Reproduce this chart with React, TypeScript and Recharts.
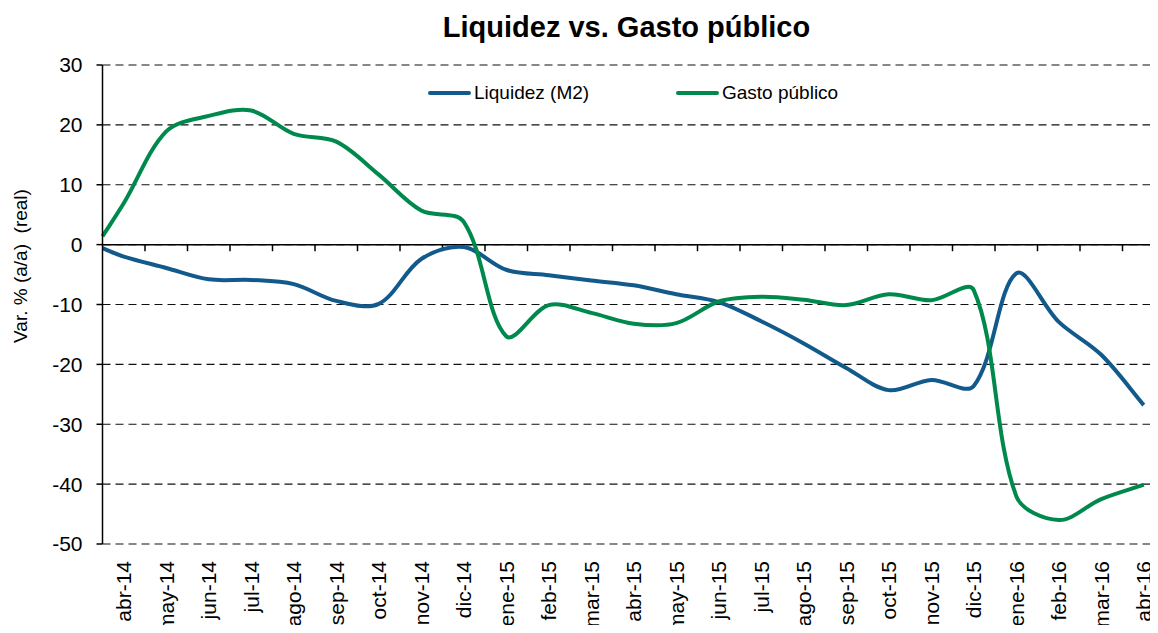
import React from 'react';
import {
  LineChart,
  Line,
  XAxis,
  YAxis,
  CartesianGrid,
  Legend,
  ReferenceLine,
} from 'recharts';

const months = [
  'abr-14', 'may-14', 'jun-14', 'jul-14', 'ago-14', 'sep-14', 'oct-14', 'nov-14', 'dic-14',
  'ene-15', 'feb-15', 'mar-15', 'abr-15', 'may-15', 'jun-15', 'jul-15', 'ago-15', 'sep-15',
  'oct-15', 'nov-15', 'dic-15', 'ene-16', 'feb-16', 'mar-16', 'abr-16',
];

// Var. % (a/a) real
const liquidez = [
  -2.0, -3.9, -5.8, -5.9, -6.6, -9.4, -9.9, -2.4, -0.4, -4.2, -5.1, -6.0, -6.8,
  -8.3, -9.6, -12.8, -16.5, -20.6, -24.3, -22.6, -23.6, -4.8, -12.9, -18.4, -26.8,
];
const gasto = [
  6.9, 18.9, 21.5, 22.4, 18.5, 17.2, 11.7, 5.7, 3.8, -15.3, -10.1, -11.4, -13.2,
  -13.1, -9.5, -8.7, -9.2, -10.1, -8.3, -9.3, -7.6, -42.0, -46.0, -42.5, -40.1,
];
// the lines already start at the left edge of the plot (half a month before abr-14)
const liquidezEdge = -0.6;
const gastoEdge = 1.4;

const yTicks = [-50, -40, -30, -20, -10, 0, 10, 20, 30];

const BLUE = '#125A8C';
const GREEN = '#00894C';
const FONT = '"Liberation Sans", Arial, sans-serif';

const chartData = [
  { pos: -0.5, liquidez: liquidezEdge, gasto: gastoEdge },
  ...months.map((m, i) => ({ pos: i, liquidez: liquidez[i], gasto: gasto[i] })),
];
const monthTicks = months.map((_, i) => i);
const bandEdges = months.map((_, i) => i + 0.5);

// Excel-like smoothed line: bezier through every point,
// handles weighted by the lengths of the neighbouring segments
const excelSmooth = (context: any) => {
  let pts: number[][] = [];
  const dist = (a: number[], b: number[]) => Math.hypot(b[0] - a[0], b[1] - a[1]);
  return {
    areaStart() {},
    areaEnd() {},
    lineStart() {
      pts = [];
    },
    lineEnd() {
      if (!pts.length) return;
      context.moveTo(pts[0][0], pts[0][1]);
      for (let i = 0; i < pts.length - 1; i++) {
        const p1 = pts[i];
        const p2 = pts[i + 1];
        const p0 = pts[i - 1] || p1;
        const p3 = pts[i + 2] || p2;
        const d01 = dist(p0, p1);
        const d12 = dist(p1, p2) || 1;
        const d23 = dist(p2, p3);
        const f1 = d12 / (3 * (d01 + d12));
        const f2 = d12 / (3 * (d12 + d23));
        context.bezierCurveTo(
          p1[0] + (p2[0] - p0[0]) * f1,
          p1[1] + (p2[1] - p0[1]) * f1,
          p2[0] - (p3[0] - p1[0]) * f2,
          p2[1] - (p3[1] - p1[1]) * f2,
          p2[0],
          p2[1]
        );
      }
    },
    point(x: number, y: number) {
      pts.push([+x, +y]);
    },
  };
};

const MonthTick = (props: any) => {
  const { x, y, payload } = props;
  return (
    <text
      x={x}
      y={y}
      transform={`rotate(-90, ${x}, ${y})`}
      textAnchor="end"
      dy="0.35em"
      fontSize={21}
      fontFamily={FONT}
      fill="#000"
    >
      {months[payload.value]}
    </text>
  );
};

const LegendContent = () => {
  const items = [
    { name: 'Liquidez (M2)', color: BLUE, width: 248 },
    { name: 'Gasto público', color: GREEN, width: 200 },
  ];
  return (
    <div style={{ display: 'flex', fontFamily: FONT, fontSize: 19, color: '#000' }}>
      {items.map((it) => (
        <div key={it.name} style={{ width: it.width, display: 'flex', alignItems: 'center' }}>
          <span
            style={{
              display: 'inline-block',
              width: 43,
              height: 4,
              borderRadius: 2,
              background: it.color,
              marginRight: 3,
            }}
          />
          <span>{it.name}</span>
        </div>
      ))}
    </div>
  );
};

const App: React.FC = () => {
  return (
    <div
      style={{
        position: 'relative',
        margin: -8,
        width: 1158,
        height: 633,
        overflow: 'hidden',
        background: '#fff',
      }}
    >
      <div
        style={{
          position: 'absolute',
          left: 626.5,
          top: 12.5,
          transform: 'translateX(-50%)',
          fontFamily: FONT,
          fontWeight: 'bold',
          fontSize: 29,
          lineHeight: '29px',
          whiteSpace: 'nowrap',
          color: '#000',
        }}
      >
        Liquidez vs. Gasto público
      </div>
      <div
        style={{
          position: 'absolute',
          left: 21,
          top: 266,
          transform: 'translate(-50%, -50%) rotate(-90deg)',
          fontFamily: FONT,
          fontSize: 19,
          whiteSpace: 'pre',
          color: '#000',
        }}
      >
        {'Var. % (a/a)  (real)'}
      </div>
      <div style={{ position: 'absolute', left: 0, top: 0 }}>
        <LineChart
          width={1170}
          height={633}
          data={chartData}
          margin={{ top: 65, right: 5, bottom: 0, left: 0 }}
        >
          <CartesianGrid
            vertical={false}
            stroke="#111"
            strokeDasharray="8 5"
            strokeWidth={1.2}
          />
          <XAxis
            dataKey="pos"
            type="number"
            domain={[-0.5, 24.5]}
            ticks={monthTicks}
            interval={0}
            axisLine={false}
            tickLine={false}
            tickSize={0}
            tickMargin={17}
            height={89}
            tick={<MonthTick />}
          />
          <YAxis
            type="number"
            domain={[-50, 30]}
            ticks={yTicks}
            interval={0}
            width={102.5}
            axisLine={{ stroke: '#000', strokeWidth: 1.5 }}
            tickLine={{ stroke: '#000', strokeWidth: 1.5 }}
            tickSize={6}
            tickMargin={14}
            tick={{ fill: '#000', fontSize: 21, fontFamily: FONT }}
          />
          <ReferenceLine y={0} stroke="#000" strokeWidth={1.5} />
          {bandEdges.map((b) => (
            <ReferenceLine
              key={b}
              segment={[
                { x: b, y: 0 },
                { x: b, y: -1.1 },
              ]}
              stroke="#000"
              strokeWidth={1.5}
            />
          ))}
          <Legend
            layout="horizontal"
            verticalAlign="middle"
            align="center"
            wrapperStyle={{ left: 428, top: 82, width: 460 }}
            content={<LegendContent />}
          />
          <Line
            type={excelSmooth as any}
            dataKey="liquidez"
            name="Liquidez (M2)"
            stroke={BLUE}
            strokeWidth={4}
            dot={false}
            activeDot={false}
            isAnimationActive={false}
          />
          <Line
            type={excelSmooth as any}
            dataKey="gasto"
            name="Gasto público"
            stroke={GREEN}
            strokeWidth={4}
            dot={false}
            activeDot={false}
            isAnimationActive={false}
          />
        </LineChart>
      </div>
    </div>
  );
};

export default App;
